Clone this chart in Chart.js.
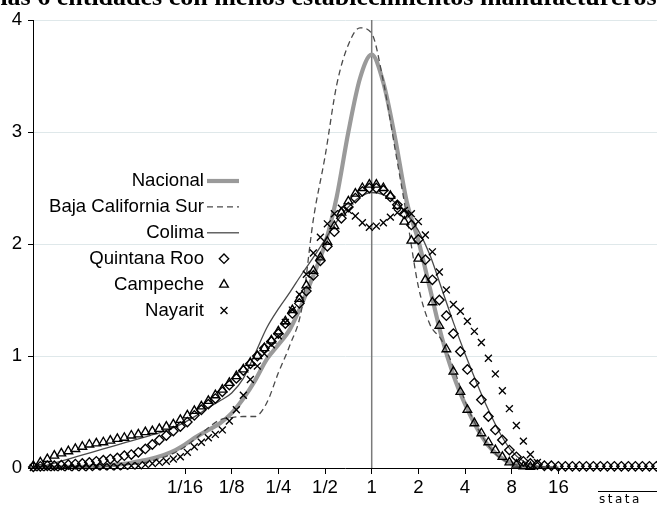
<!DOCTYPE html>
<html><head><meta charset="utf-8">
<script src="https://cdn.jsdelivr.net/npm/chart.js@4.4.1/dist/chart.umd.min.js"></script>
<style>html,body{margin:0;padding:0;background:#fff;overflow:hidden}#wrap{position:relative;width:657px;height:505px}</style>
</head><body><div id="wrap"><canvas id="c" width="657" height="505"></canvas></div>
<script>
// ---- data (x values are log2 of the ratio) ----
const titleText = "las 6 entidades con menos establecimientos manufactureros";
const tickValues = [-4, -3, -2, -1, 0, 1, 2, 3, 4];
const tickLabels = ["1/16", "1/8", "1/4", "1/2", "1", "2", "4", "8", "16"];
const yTicks = [0, 1, 2, 3, 4];
const refX = 1;
const seriesNames = ["Nacional", "Baja California Sur", "Colima", "Quintana Roo", "Campeche", "Nayarit"];

const lineGrid = [-7.25,-7,-6.75,-6.5,-6.25,-6,-5.75,-5.5,-5.25,-5,-4.75,-4.5,-4.25,-4,-3.75,-3.5,-3.25,-3,-2.75,-2.5,-2.25,-2,-1.75,-1.5,-1.25,-1,-0.75,-0.5,-0.25,0,0.25,0.5,0.75,1,1.25,1.5,1.75,2,2.25,2.5,2.75,3,3.25,3.5,3.75,4];
const nacional = [0,0,0.005,0.01,0.01,0.015,0.02,0.03,0.04,0.06,0.08,0.11,0.15,0.21,0.28,0.34,0.40,0.49,0.62,0.78,0.97,1.10,1.24,1.46,1.72,2.0,2.42,3.0,3.48,3.69,3.44,2.95,2.38,2.03,1.6,1.17,0.83,0.57,0.36,0.2,0.1,0.04,0.015,0.005,0,0];
const bajaCalifSur = [0,0,0,0.005,0.01,0.01,0.015,0.02,0.03,0.04,0.06,0.09,0.13,0.19,0.27,0.36,0.43,0.45,0.46,0.46,0.58,0.85,1.1,1.42,2.22,2.78,3.42,3.78,3.93,3.88,3.45,2.85,2.25,1.62,1.28,1.14,0.9,0.6,0.37,0.2,0.09,0.04,0.015,0.005,0,0];
const colima = [0,0.02,0.05,0.08,0.11,0.14,0.17,0.20,0.23,0.26,0.29,0.32,0.36,0.41,0.47,0.54,0.60,0.67,0.80,1.02,1.25,1.42,1.57,1.73,1.88,2.04,2.2,2.33,2.42,2.46,2.44,2.37,2.27,2.12,1.9,1.6,1.3,1.02,0.76,0.52,0.31,0.15,0.06,0.02,0.01,0];

const markerGrid = [
 -7.25,-7.10,-6.95,-6.80,-6.65,-6.50,-6.35,-6.20,-6.05,-5.90,
 -5.75,-5.60,-5.45,-5.30,-5.15,-5.00,-4.85,-4.70,-4.55,-4.40,
 -4.25,-4.10,-3.95,-3.80,-3.65,-3.50,-3.35,-3.20,-3.05,-2.90,
 -2.75,-2.60,-2.45,-2.30,-2.15,-2.00,-1.85,-1.70,-1.55,-1.40,
 -1.25,-1.10,-0.95,-0.80,-0.65,-0.50,-0.35,-0.20,-0.05,0.10,
 0.25,0.40,0.55,0.70,0.85,1.00,1.15,1.30,1.45,1.60,
 1.75,1.90,2.05,2.20,2.35,2.50,2.65,2.80,2.95,3.10,
 3.25,3.40,3.55,3.70,3.85,4.00,4.15,4.30,4.45,4.60,
 4.75,4.90,5.05,5.20,5.35,5.50,5.65,5.80,5.95,6.10];
const quintanaRoo = [
 0.01,0.015,0.02,0.02,0.025,0.03,0.035,0.04,0.05,0.06,
 0.07,0.08,0.09,0.11,0.12,0.14,0.17,0.21,0.25,0.29,
 0.33,0.37,0.41,0.47,0.52,0.57,0.62,0.68,0.74,0.80,
 0.87,0.93,1.00,1.07,1.13,1.20,1.29,1.38,1.47,1.58,
 1.72,1.85,1.98,2.11,2.23,2.33,2.41,2.47,2.50,2.50,
 2.48,2.42,2.35,2.27,2.17,2.04,1.86,1.68,1.50,1.36,
 1.20,1.04,0.88,0.76,0.61,0.46,0.34,0.25,0.16,0.10,
 0.06,0.04,0.03,0.02,0.02,0.015,0.015,0.015,0.015,0.015,
 0.015,0.015,0.015,0.015,0.015,0.015,0.015,0.015,0.015,0.015];
const campeche = [
 0.02,0.05,0.08,0.11,0.13,0.15,0.17,0.19,0.21,0.22,
 0.23,0.245,0.26,0.27,0.29,0.30,0.32,0.33,0.35,0.37,
 0.39,0.43,0.47,0.51,0.55,0.60,0.65,0.70,0.76,0.82,
 0.88,0.94,1.00,1.07,1.14,1.22,1.31,1.41,1.51,1.63,
 1.76,1.88,2.02,2.16,2.28,2.38,2.45,2.50,2.53,2.53,
 2.50,2.43,2.34,2.20,2.03,1.87,1.68,1.48,1.27,1.06,
 0.86,0.68,0.52,0.40,0.31,0.23,0.16,0.10,0.05,0.03,
 0.015,0.01];
const nayarit = [
 0.005,0.005,0.005,0.005,0.005,0.005,0.005,0.005,0.005,0.01,
 0.01,0.01,0.01,0.015,0.02,0.02,0.03,0.04,0.05,0.06,
 0.08,0.10,0.14,0.19,0.23,0.27,0.30,0.34,0.42,0.52,
 0.65,0.79,0.91,1.02,1.10,1.18,1.30,1.41,1.55,1.73,
 1.92,2.06,2.18,2.27,2.32,2.30,2.25,2.19,2.15,2.16,
 2.19,2.24,2.28,2.30,2.27,2.20,2.08,1.93,1.75,1.59,
 1.46,1.40,1.31,1.22,1.12,0.98,0.84,0.69,0.53,0.38,
 0.24,0.12,0.05];

// ---- build ----
const FONT = '"Liberation Sans", Arial, sans-serif';
const FS = 18.6;
const MBW = 1.35;
const pts = (xs, ys) => ys.map((y, i) => ({x: xs[i], y}));

const styles = [
  {kind:'line', color:'#9a9a9a', width:4.2, dash:[]},
  {kind:'line', color:'#4a4a4a', width:1.3, dash:[6,4]},
  {kind:'line', color:'#4a4a4a', width:1.3, dash:[]},
  {kind:'pt', style:'rectRot', r:4.7},
  {kind:'pt', style:'triangle', r:5.0},
  {kind:'pt', style:'crossRot', r:4.9}
];

const datasets = [
  {label: seriesNames[0], data: pts(lineGrid, nacional), borderColor:styles[0].color, borderWidth:styles[0].width, pointRadius:0, cubicInterpolationMode:'monotone', order:6, fill:false},
  {label: seriesNames[1], data: pts(lineGrid, bajaCalifSur), borderColor:styles[1].color, borderWidth:styles[1].width, borderDash:styles[1].dash, pointRadius:0, cubicInterpolationMode:'monotone', order:5, fill:false},
  {label: seriesNames[2], data: pts(lineGrid, colima), borderColor:styles[2].color, borderWidth:styles[2].width, pointRadius:0, cubicInterpolationMode:'monotone', order:4, fill:false},
  {label: seriesNames[3], data: pts(markerGrid, quintanaRoo), showLine:false, pointStyle:'rectRot', pointRadius:styles[3].r, pointBorderColor:'#000', pointBackgroundColor:'rgba(0,0,0,0)', pointBorderWidth:MBW, order:3, clip:false},
  {label: seriesNames[4], data: pts(markerGrid, campeche), showLine:false, pointStyle:'triangle', pointRadius:styles[4].r, pointBorderColor:'#000', pointBackgroundColor:'rgba(0,0,0,0)', pointBorderWidth:MBW, order:2, clip:false},
  {label: seriesNames[5], data: pts(markerGrid, nayarit), showLine:false, pointStyle:'crossRot', pointRadius:styles[5].r, pointBorderColor:'#000', pointBackgroundColor:'rgba(0,0,0,0)', pointBorderWidth:MBW, order:1, clip:false},
  {label: '_ref', data: [{x: Math.log2(refX), y: yTicks[0]}, {x: Math.log2(refX), y: yTicks[yTicks.length-1]}], borderColor:'#7a7a7a', borderWidth:1.5, pointRadius:0, order:10, fill:false}
];

function drawSym(ctx, st, cx, cy) {
  ctx.save();
  if (st.kind === 'line') {
    ctx.strokeStyle = st.color; ctx.lineWidth = st.width; ctx.setLineDash(st.dash);
    ctx.beginPath(); ctx.moveTo(cx - 17, cy); ctx.lineTo(cx + 15, cy); ctx.stroke();
  } else {
    ctx.strokeStyle = '#000'; ctx.lineWidth = MBW;
    const r = st.r;
    ctx.beginPath();
    if (st.style === 'rectRot') {
      ctx.moveTo(cx - r, cy); ctx.lineTo(cx, cy - r); ctx.lineTo(cx + r, cy); ctx.lineTo(cx, cy + r); ctx.closePath();
    } else if (st.style === 'triangle') {
      for (let k = 0; k < 3; k++) {
        const a = k * 2 * Math.PI / 3;
        const px = cx + Math.sin(a) * r, py = cy - Math.cos(a) * r;
        if (k === 0) ctx.moveTo(px, py); else ctx.lineTo(px, py);
      }
      ctx.closePath();
    } else {
      const d = r * Math.SQRT1_2;
      ctx.moveTo(cx - d, cy - d); ctx.lineTo(cx + d, cy + d);
      ctx.moveTo(cx + d, cy - d); ctx.lineTo(cx - d, cy + d);
    }
    ctx.stroke();
  }
  ctx.restore();
}

const decor = {
  id: 'decor',
  beforeDraw(chart) {
    const ctx = chart.ctx;
    ctx.save();
    ctx.fillStyle = '#fff';
    ctx.fillRect(0, 0, chart.width, chart.height);
    ctx.fillStyle = '#000';
    ctx.font = 'bold 26px "Liberation Serif", "DejaVu Serif", serif';
    ctx.textAlign = 'center';
    ctx.textBaseline = 'alphabetic';
    ctx.fillText(titleText, chart.width / 2, 5);
    ctx.restore();
  },
  afterDraw(chart) {
    const ctx = chart.ctx;
    ctx.save();
    ctx.font = FS + 'px ' + FONT;
    ctx.fillStyle = '#000';
    ctx.textAlign = 'right';
    ctx.textBaseline = 'middle';
    for (let i = 0; i < seriesNames.length; i++) {
      const y = 181 + i * 25.9;
      ctx.fillText(seriesNames[i], 204, y);
      drawSym(ctx, styles[i], 224, y);
    }
    // stata logo
    ctx.strokeStyle = '#000'; ctx.lineWidth = 1;
    ctx.beginPath(); ctx.moveTo(598, 491.5); ctx.lineTo(657, 491.5); ctx.stroke();
    ctx.textAlign = 'left'; ctx.textBaseline = 'alphabetic';
    ctx.font = '12px "DejaVu Sans", sans-serif';
    try { ctx.letterSpacing = '2.5px'; } catch(e) {}
    ctx.fillText('stata', 599, 503);
    ctx.restore();
  }
};

new Chart(document.getElementById('c'), {
  type: 'line',
  data: { datasets },
  options: {
    responsive: false, animation: false, devicePixelRatio: 1,
    layout: { autoPadding: false, padding: { top: 20, left: 0, right: 0, bottom: 0 } },
    plugins: { legend: { display: false }, tooltip: { enabled: false }, title: { display: false } },
    elements: { line: { tension: 0 } },
    scales: {
      x: {
        type: 'linear', min: -7.257, max: 6.113,
        afterFit(s) { s.height = 37; },
        afterBuildTicks(s) { s.ticks = tickValues.map(v => ({value: v})); },
        ticks: { autoSkip: false, maxRotation: 0, padding: 3, color: '#000', font: { size: FS, family: FONT },
                 callback: (v) => { const i = tickValues.indexOf(v); return i >= 0 ? tickLabels[i] : ''; } },
        grid: { drawOnChartArea: false, drawTicks: true, tickLength: 6, tickColor: '#000', tickWidth: 1 },
        border: { color: '#000', width: 1 }
      },
      y: {
        min: yTicks[0], max: yTicks[yTicks.length-1],
        afterFit(s) { s.width = 33; },
        afterBuildTicks(s) { s.ticks = yTicks.map(v => ({value: v})); },
        ticks: { color: '#000', padding: 6, font: { size: FS, family: FONT } },
        grid: { color: (c) => (c.tick && c.tick.value === 0) ? 'rgba(0,0,0,0)' : '#dfe8ea', lineWidth: 1, tickLength: 5, tickColor: '#000', tickWidth: 1 },
        border: { color: '#000', width: 1 }
      }
    }
  },
  plugins: [decor]
});
</script>
</body></html>
